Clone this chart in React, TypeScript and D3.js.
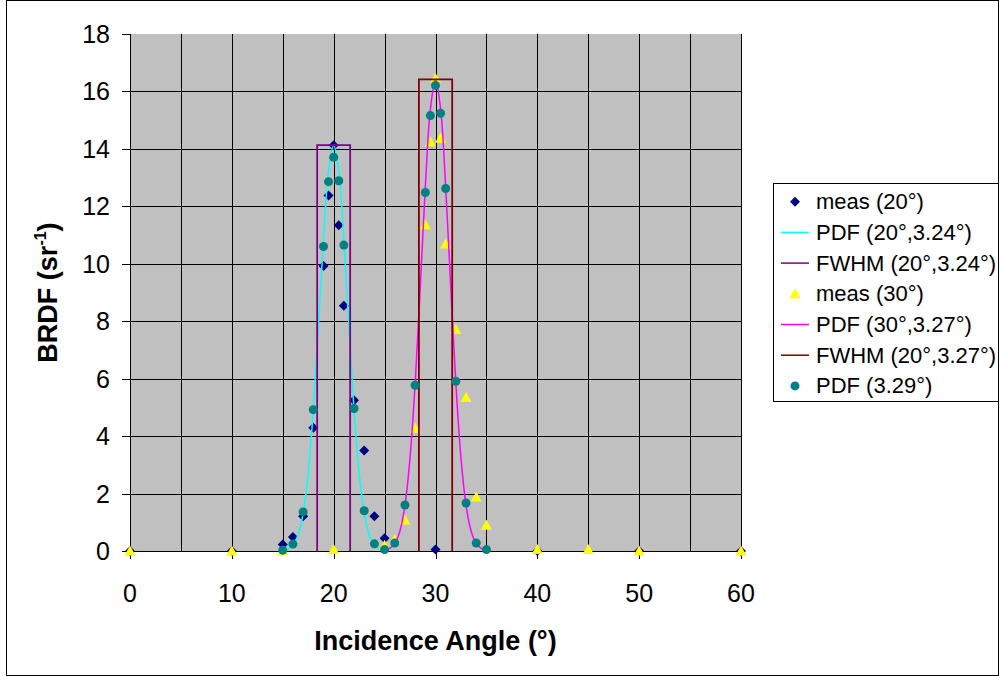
import React from 'react';
import * as d3 from 'd3';

// --- Data ---
const meas20Angle = [0, 10, 15, 16, 17, 18, 19, 19.5, 20, 20.5, 21, 22, 23, 24, 25, 30, 40, 50, 60];
const meas20Brdf = [0, 0, 0.23, 0.49, 1.21, 4.29, 9.92, 12.38, 14.13, 11.34, 8.54, 5.25, 3.5, 1.21, 0.44, 0.05, 0, 0, 0];

const pdf20Angle = [15, 15.5, 16, 16.5, 17, 17.5, 18, 18.5, 19, 19.5, 20, 20.5, 21, 21.5, 22, 22.5, 23, 23.5, 24, 24.5, 25];
const pdf20Brdf = [0.02, 0.07, 0.21, 0.56, 1.31, 2.71, 4.91, 7.8, 10.85, 13.23, 14.13, 13.23, 10.85, 7.8, 4.91, 2.71, 1.31, 0.56, 0.21, 0.07, 0.02];

const fwhm20Angle = [18.38, 18.38, 21.62, 21.62];
const fwhm20Brdf = [0, 14.13, 14.13, 0];

const meas30Angle = [0, 10, 15, 20, 25, 26, 27, 28, 29, 29.5, 30, 30.5, 31, 32, 33, 34, 35, 40, 45, 50, 60];
const meas30Brdf = [0, 0, 0, 0.05, 0.2, 0.4, 1.08, 4.27, 11.36, 14.25, 16.45, 14.37, 10.69, 7.71, 5.34, 1.88, 0.9, 0.05, 0.05, 0, 0];

const pdf30Angle = [25, 25.5, 26, 26.5, 27, 27.5, 28, 28.5, 29, 29.5, 30, 30.5, 31, 31.5, 32, 32.5, 33, 33.5, 34, 34.5, 35];
const pdf30Brdf = [0.03, 0.09, 0.26, 0.69, 1.59, 3.25, 5.82, 9.16, 12.67, 15.39, 16.42, 15.39, 12.67, 9.16, 5.82, 3.25, 1.59, 0.69, 0.26, 0.09, 0.03];

const fwhm30Angle = [28.37, 28.37, 31.64, 31.64];
const fwhm30Brdf = [0, 16.42, 16.42, 0];

const pdfFitAngle = [15, 16, 17, 18, 19, 19.5, 20, 20.5, 21, 22, 23, 24, 25, 26, 27, 28, 29, 29.5, 30, 30.5, 31, 32, 33, 34, 35];
const pdfFitBrdf = [0.03, 0.24, 1.36, 4.92, 10.6, 12.86, 13.71, 12.89, 10.65, 4.96, 1.4, 0.25, 0.05, 0.28, 1.6, 5.77, 12.48, 15.16, 16.21, 15.24, 12.62, 5.91, 1.67, 0.28, 0.05];

const xTicks = [0, 10, 20, 30, 40, 50, 60];
const xGrid = [5, 10, 15, 20, 25, 30, 35, 40, 45, 50, 55, 60];
const yTicks = [0, 2, 4, 6, 8, 10, 12, 14, 16, 18];

const legendLabels = [
    'meas (20°)',
    'PDF (20°,3.24°)',
    'FWHM (20°,3.24°)',
    'meas (30°)',
    'PDF (30°,3.27°)',
    'FWHM (20°,3.27°)',
    'PDF (3.29°)',
];

const FONT = '"Liberation Sans", Arial, sans-serif';

const zip = (xs: number[], ys: number[]) => xs.map((x, i) => [x, ys[i]] as [number, number]);

// --- Marker shapes ---
const Diamond = ({ cx, cy }: { cx: number; cy: number }) => (
    <path d={`M${cx},${cy - 5}L${cx + 5},${cy}L${cx},${cy + 5}L${cx - 5},${cy}Z`} fill="#000080" />
);
const Triangle = ({ cx, cy }: { cx: number; cy: number }) => (
    <path d={`M${cx},${cy - 5.5}L${cx + 5.5},${cy + 4.5}L${cx - 5.5},${cy + 4.5}Z`} fill="#FFFF00" />
);
const Dot = ({ cx, cy }: { cx: number; cy: number }) => <circle cx={cx} cy={cy} r={4.5} fill="#008080" />;

export default function App() {
    const width = 1000;
    const height = 676;

    const x = d3.scaleLinear().domain([0, 60]).range([130, 741]);
    const y = d3.scaleLinear().domain([0, 18]).range([551, 34]);

    const smooth = d3.line<[number, number]>()
        .x(d => x(d[0]))
        .y(d => y(d[1]))
        .curve(d3.curveCatmullRom);
    const straight = d3.line<[number, number]>()
        .x(d => x(d[0]))
        .y(d => y(d[1]));

    const legendX = 773;
    const legendY = 183;
    const rowH = 30.7;

    const legendMarker = (i: number, cy: number) => {
        switch (i) {
            case 0: return <Diamond cx={795} cy={cy} />;
            case 1: return <line x1={781} x2={809} y1={cy} y2={cy} stroke="#00FFFF" strokeWidth={1.5} />;
            case 2: return <line x1={781} x2={809} y1={cy} y2={cy} stroke="#800080" strokeWidth={1.5} />;
            case 3: return <Triangle cx={795} cy={cy} />;
            case 4: return <line x1={781} x2={809} y1={cy} y2={cy} stroke="#FF00FF" strokeWidth={1.5} />;
            case 5: return <line x1={781} x2={809} y1={cy} y2={cy} stroke="#800000" strokeWidth={1.5} />;
            default: return <Dot cx={795} cy={cy} />;
        }
    };

    return (
        <div style={{ position: 'fixed', left: 0, top: 0 }}>
            <svg width={width} height={height} style={{ display: 'block', fontFamily: FONT }}>
                <rect x={0} y={0} width={width} height={height} fill="#fff" />
                <rect x={6.5} y={0.5} width={992} height={675} fill="none" stroke="#000" />

                {/* plot area */}
                <rect x={x(0)} y={y(18)} width={x(60) - x(0)} height={y(0) - y(18)} fill="#C0C0C0" />
                {yTicks.filter(t => t > 0 && t < 18).map(t => (
                    <line key={'hg' + t} x1={x(0)} x2={x(60)} y1={Math.round(y(t)) + 0.5} y2={Math.round(y(t)) + 0.5} stroke="#000" />
                ))}
                {xGrid.map(t => (
                    <line key={'vg' + t} x1={Math.round(x(t)) + 0.5} x2={Math.round(x(t)) + 0.5} y1={y(18)} y2={y(0)} stroke="#000" />
                ))}

                {/* axes */}
                <line x1={x(0) + 0.5} x2={x(0) + 0.5} y1={y(18)} y2={y(0)} stroke="#000" />
                <line x1={x(0)} x2={x(60)} y1={y(0) + 0.5} y2={y(0) + 0.5} stroke="#000" />
                {yTicks.map(t => (
                    <g key={'yt' + t}>
                        <line x1={122} x2={x(0)} y1={Math.round(y(t)) + 0.5} y2={Math.round(y(t)) + 0.5} stroke="#000" />
                        <text x={110} y={y(t) + 9} textAnchor="end" fontSize={25} fill="#000">{t}</text>
                    </g>
                ))}
                {xTicks.map(t => (
                    <g key={'xt' + t}>
                        <line x1={Math.round(x(t)) + 0.5} x2={Math.round(x(t)) + 0.5} y1={y(0)} y2={y(0) + 8} stroke="#000" />
                        <text x={x(t)} y={602} textAnchor="middle" fontSize={25} fill="#000">{t}</text>
                    </g>
                ))}

                <text x={(x(0) + x(60)) / 2} y={650} textAnchor="middle" fontSize={27} fontWeight="bold" fill="#000">Incidence Angle (°)</text>
                <text transform={`translate(57,${(y(0) + y(18)) / 2}) rotate(-90)`} textAnchor="middle" fontSize={27} fontWeight="bold" fill="#000">
                    BRDF (sr<tspan fontSize={16} dy={-11}>-1</tspan><tspan dy={11}>)</tspan>
                </text>

                {/* series, in legend order */}
                {zip(meas20Angle, meas20Brdf).map((d, i) => <Diamond key={'m20' + i} cx={x(d[0])} cy={y(d[1])} />)}
                <path d={smooth(zip(pdf20Angle, pdf20Brdf)) || ''} fill="none" stroke="#00FFFF" strokeWidth={1.5} />
                <path d={straight(zip(fwhm20Angle, fwhm20Brdf)) || ''} fill="none" stroke="#800080" strokeWidth={1.8} />
                {zip(meas30Angle, meas30Brdf).map((d, i) => <Triangle key={'m30' + i} cx={x(d[0])} cy={y(d[1])} />)}
                <path d={smooth(zip(pdf30Angle, pdf30Brdf)) || ''} fill="none" stroke="#FF00FF" strokeWidth={1.5} />
                <path d={straight(zip(fwhm30Angle, fwhm30Brdf)) || ''} fill="none" stroke="#800000" strokeWidth={1.8} />
                {zip(pdfFitAngle, pdfFitBrdf).map((d, i) => <Dot key={'pf' + i} cx={x(d[0])} cy={y(d[1])} />)}

                {/* legend */}
                <rect x={legendX + 0.5} y={legendY + 0.5} width={225} height={218} fill="#fff" stroke="#000" />
                {legendLabels.map((label, i) => {
                    const cy = legendY + 18.7 + i * rowH;
                    return (
                        <g key={'lg' + i}>
                            {legendMarker(i, cy)}
                            <text x={816} y={cy + 7.5} fontSize={22} fill="#000">{label}</text>
                        </g>
                    );
                })}
            </svg>
        </div>
    );
}
